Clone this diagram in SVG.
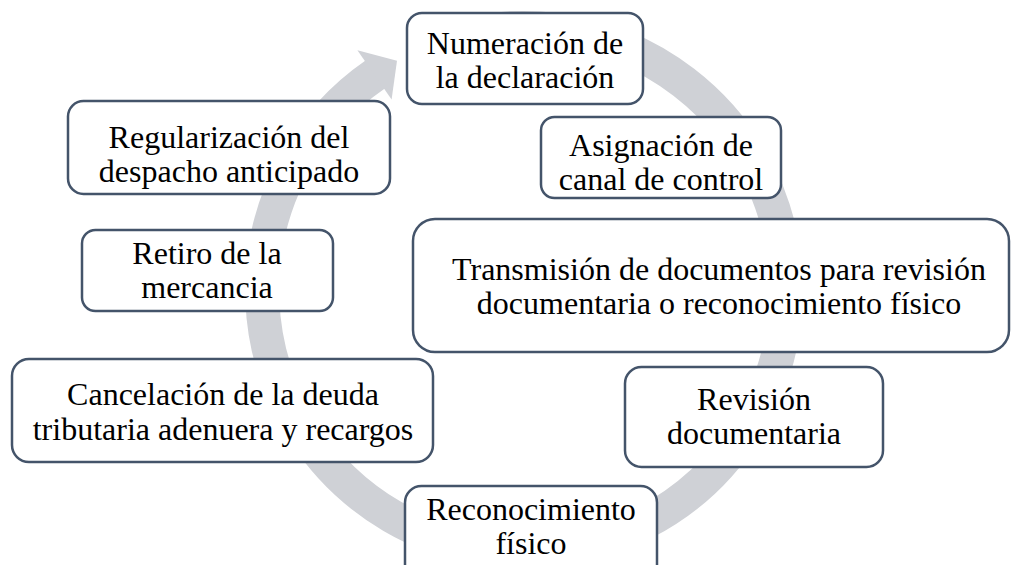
<svg xmlns="http://www.w3.org/2000/svg" width="1011" height="565" viewBox="0 0 1011 565">
<style>
.box{fill:#ffffff;stroke:#44546a;stroke-width:2.5}
.t{font-family:"Liberation Serif","Times New Roman",serif;font-size:32px;fill:#000000;text-anchor:middle}
.ring{fill:none;stroke:#cfd1d6;stroke-width:34}
.head{fill:#cfd1d6}
</style>
<rect width="1011" height="565" fill="#ffffff"/>
<g id="connectors">
<path class="ring" d="M434.4,43.8 A262,262 0 1 1 375.5,74.2"/>
<polygon class="head" points="357.4,50.2 397.0,60.8 391.6,99.5"/>
</g>
<g id="n1">
<rect class="box" x="407" y="13" width="236" height="91" rx="15"/>
<text class="t" x="525" y="54">Numeración de</text>
<text class="t" x="525" y="88">la declaración</text>
</g>
<g id="n2">
<rect class="box" x="541" y="117" width="240" height="81" rx="13.5"/>
<text class="t" x="661" y="156">Asignación de</text>
<text class="t" x="661" y="190">canal de control</text>
</g>
<g id="n3">
<rect class="box" x="413" y="219" width="596" height="133" rx="22"/>
<text class="t" x="719" y="280">Transmisión de documentos para revisión</text>
<text class="t" x="719" y="314">documentaria o reconocimiento físico</text>
</g>
<g id="n4">
<rect class="box" x="625" y="367" width="258" height="100" rx="16.5"/>
<text class="t" x="754" y="410">Revisión</text>
<text class="t" x="754" y="444">documentaria</text>
</g>
<g id="n5">
<rect class="box" x="405" y="486" width="252" height="100" rx="16.5"/>
<text class="t" x="531" y="520">Reconocimiento</text>
<text class="t" x="531" y="554">físico</text>
</g>
<g id="n6">
<rect class="box" x="12" y="359" width="421" height="103" rx="17"/>
<text class="t" x="223" y="405">Cancelación de la deuda</text>
<text class="t" x="223" y="440">tributaria adenuera y recargos</text>
</g>
<g id="n7">
<rect class="box" x="82" y="230" width="251" height="81" rx="13.5"/>
<text class="t" x="207" y="264">Retiro de la</text>
<text class="t" x="207" y="298">mercancia</text>
</g>
<g id="n8">
<rect class="box" x="68" y="101" width="322" height="93" rx="15.5"/>
<text class="t" x="229" y="148">Regularización del</text>
<text class="t" x="229" y="182">despacho anticipado</text>
</g>
</svg>
